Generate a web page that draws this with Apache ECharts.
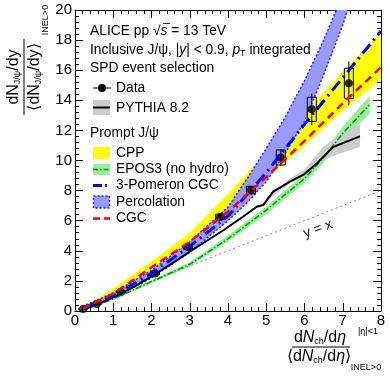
<!DOCTYPE html>
<html>
<head>
<meta charset="utf-8">
<script src="https://cdn.jsdelivr.net/npm/echarts@6/dist/echarts.min.js"></script>
<style>
  html, body { margin: 0; padding: 0; background: #fff; }
  #chart { width: 390px; height: 379px; }
</style>
</head>
<body>
<div id="chart"></div>
<script>
const FONT = 'Liberation Sans, Arial, Helvetica, sans-serif';

// ALICE inclusive J/psi data
const dataX = [0.21, 0.57, 1.2, 2.09, 2.95, 3.79, 4.6, 5.38, 6.19, 7.16];
const dataY = [0.13, 0.46, 1.26, 2.5, 4.25, 6.25, 8.04, 10.2, 13.4, 15.13];
const dataStat = [0.02, 0.04, 0.08, 0.12, 0.18, 0.22, 0.3, 0.55, 1.05, 1.45];
const dataSyst = [0.02, 0.03, 0.06, 0.1, 0.14, 0.18, 0.25, 0.5, 0.8, 1.0];

// PYTHIA 8.2
const pyX = [0.2, 0.5, 1, 1.5, 2, 2.5, 3, 3.5, 3.9, 4.3, 4.75, 4.92, 5.18, 5.62, 6.0, 6.32, 6.75, 7.1, 7.45];
const pyY = [0.1, 0.35, 0.9, 1.55, 2.3, 3.1, 3.94, 4.75, 5.4, 6.1, 6.93, 7.04, 7.93, 8.6, 9.1, 9.8, 10.9, 11.25, 11.6];
const pyBandX = [5.0, 5.6, 6.0, 6.49, 6.84, 7.45];
const pyBandLow = [7.3, 8.45, 8.9, 10.0, 10.4, 10.9];
const pyBandHigh = [7.5, 8.75, 9.4, 10.9, 11.6, 12.4];

// CPP
const cppX = [0.2, 1, 2, 3, 4, 5, 6, 7, 8];
const cppLow = [0.15, 1.05, 2.55, 4.3, 6.6, 8.8, 11.0, 13.3, 15.4];
const cppHigh = [0.25, 1.5, 3.3, 5.2, 7.8, 10.5, 13.2, 15.9, 18.5];

// EPOS3 (no hydro)
const eposX = [0.2, 1, 2, 3, 4, 5, 6, 6.5, 7, 7.7];
const eposY = [0.05, 0.8, 1.95, 3.1, 4.8, 6.7, 8.8, 10.2, 11.8, 13.7];
const eposLow = [0.03, 0.75, 1.85, 2.95, 4.6, 6.45, 8.5, 9.85, 11.35, 13.1];
const eposHigh = [0.07, 0.85, 2.05, 3.25, 5.0, 6.95, 9.1, 10.55, 12.25, 14.3];

// 3-Pomeron CGC
const pomX = [0.2, 1, 2, 3, 4, 5, 6, 7, 8];
const pomY = [0.2, 1.0, 2.5, 4.3, 6.3, 9.2, 12.4, 15.5, 18.6];

// Percolation
const percX = [0.2, 1, 2, 3, 4, 4.5, 5, 5.5, 6, 6.5, 7, 7.5];
const percLow = [0.1, 0.85, 2.2, 3.9, 6.0, 7.2, 8.6, 10.5, 12.6, 15.7, 19.0, 23.0];
const percHigh = [0.3, 1.2, 2.7, 4.6, 6.9, 8.8, 10.8, 12.9, 15.3, 18.0, 21.0, 24.5];

// CGC
const cgcX = [0.2, 1, 2, 3, 4, 5, 6, 7, 8];
const cgcY = [0.15, 1.15, 2.9, 4.6, 6.6, 8.9, 11.3, 13.8, 16.2];

// y = x reference
const diagX = [0, 8];
const diagY = [0, 8];

function pairs(xs, ys) {
  return xs.map(function (x, i) { return [x, ys[i]]; });
}

function band(name, xs, lo, hi, fill, stroke, dash) {
  return {
    type: 'custom',
    name: name,
    silent: true,
    clip: true,
    data: [[xs[0], lo[0]]],
    renderItem: function (params, api) {
      const pts = [];
      for (let i = 0; i < xs.length; i++) pts.push(api.coord([xs[i], hi[i]]));
      for (let i = xs.length - 1; i >= 0; i--) pts.push(api.coord([xs[i], lo[i]]));
      const cs = params.coordSys;
      return {
        type: 'polygon',
        shape: { points: pts },
        clipPath: { type: 'rect', shape: { x: cs.x, y: cs.y, width: cs.width, height: cs.height } },
        style: { fill: fill, stroke: stroke || 'transparent', lineWidth: 1.5, lineDash: dash || null }
      };
    }
  };
}

function curve(name, xs, ys, color, width, dash) {
  return {
    type: 'line',
    name: name,
    data: pairs(xs, ys),
    showSymbol: false,
    symbol: 'none',
    silent: true,
    clip: true,
    lineStyle: { color: color, width: width, type: dash || 'solid' }
  };
}

const sub = function (size) {
  return { fontSize: size, fontFamily: FONT, fill: '#000', padding: [size - 1, 0, 0, 0] };
};
const ital = function (size) {
  return { fontSize: size, fontFamily: FONT, fontStyle: 'italic', fill: '#000' };
};

function label(x, y, text, size, extra) {
  const st = {
    text: text, fontSize: size, fontFamily: FONT, fill: '#000',
    align: 'left', verticalAlign: 'middle',
    rich: { i: ital(size), s: sub(9) }
  };
  Object.assign(st, extra || {});
  return { type: 'text', x: x, y: y, style: st, z: 100 };
}

const chart = echarts.init(document.getElementById('chart'), null, { renderer: 'canvas' });

const axisCommon = {
  type: 'value',
  axisLine: { show: true, onZero: false, lineStyle: { color: '#000', width: 1 } },
  axisTick: { show: true, inside: true, length: 8, lineStyle: { color: '#000' } },
  minorTick: { show: true, splitNumber: 5, length: 4, lineStyle: { color: '#000' } },
  splitLine: { show: false },
  minorSplitLine: { show: false }
};

const LEG = 13.8;

const option = {
  animation: false,
  backgroundColor: '#fff',
  grid: { left: 75, right: 9, top: 10, bottom: 68 },
  xAxis: [
    Object.assign({}, axisCommon, {
      min: 0, max: 8, interval: 1, position: 'bottom',
      axisLabel: { color: '#000', fontSize: 15, fontFamily: FONT, margin: 2 }
    }),
    Object.assign({}, axisCommon, {
      min: 0, max: 8, interval: 1, position: 'top',
      axisLabel: { show: false }
    })
  ],
  yAxis: [
    Object.assign({}, axisCommon, {
      min: 0, max: 20, interval: 2, position: 'left',
      axisLabel: { color: '#000', fontSize: 15, fontFamily: FONT, margin: 3 }
    }),
    Object.assign({}, axisCommon, {
      min: 0, max: 20, interval: 2, position: 'right',
      axisLabel: { show: false }
    })
  ],
  series: [
    band('CPP', cppX, cppLow, cppHigh, '#ffff00'),
    band('Percolation', percX, percLow, percHigh, '#9999ff', '#2222ff', [2, 2]),
    band('EPOS3 band', eposX, eposLow, eposHigh, '#99ee99'),
    band('PYTHIA band', pyBandX, pyBandLow, pyBandHigh, '#cccccc'),
    curve('y = x', diagX, diagY, '#888888', 1, [2, 3]),
    curve('EPOS3 (no hydro)', eposX, eposY, '#00a000', 1.5, [6, 2, 1.5, 2]),
    curve('PYTHIA 8.2', pyX, pyY, '#000000', 2),
    curve('3-Pomeron CGC', pomX, pomY, '#0000ff', 3, [12, 5, 2, 5]),
    curve('CGC', cgcX, cgcY, '#ff0000', 2.5, [8, 5]),
    {
      type: 'custom',
      name: 'Data errors',
      silent: true,
      data: dataX.map(function (x, i) { return [x, dataY[i], dataStat[i], dataSyst[i]]; }),
      renderItem: function (params, api) {
        const x = api.value(0), y = api.value(1), st = api.value(2), sy = api.value(3);
        const sTop = api.coord([x, y + st]);
        const sBot = api.coord([x, y - st]);
        const bTop = api.coord([x, y + sy]);
        const bBot = api.coord([x, y - sy]);
        return {
          type: 'group',
          children: [
            { type: 'line', shape: { x1: sTop[0], y1: sTop[1], x2: sBot[0], y2: sBot[1] },
              style: { stroke: '#000', lineWidth: 1 } },
            { type: 'rect', shape: { x: bTop[0] - 4.5, y: bTop[1], width: 9, height: bBot[1] - bTop[1] },
              style: { fill: 'transparent', stroke: '#000', lineWidth: 1 } }
          ]
        };
      }
    },
    {
      type: 'scatter',
      name: 'Data',
      data: pairs(dataX, dataY),
      symbol: 'circle',
      symbolSize: 8,
      itemStyle: { color: '#000' },
      silent: true
    }
  ],
  graphic: [
    // header text
    label(90, 31, 'ALICE pp √{i|s} = 13 TeV', LEG),
    { type: 'line', shape: { x1: 163, y1: 23.5, x2: 170, y2: 23.5 }, style: { stroke: '#000', lineWidth: 0.8 }, z: 100 },
    label(90, 50, 'Inclusive J/ψ, |{i|y}| < 0.9, {i|p}{s|T} integrated', LEG),
    label(90, 68, 'SPD event selection', LEG),
    // Data
    { type: 'line', shape: { x1: 93, y1: 88, x2: 111, y2: 88 }, style: { stroke: '#000', lineWidth: 1 }, z: 100 },
    { type: 'circle', shape: { cx: 102, cy: 88, r: 4 }, style: { fill: '#000' }, z: 100 },
    label(116, 88, 'Data', LEG),
    // PYTHIA
    { type: 'rect', shape: { x: 93, y: 100, width: 17, height: 15 }, style: { fill: '#cccccc' }, z: 100 },
    { type: 'line', shape: { x1: 93, y1: 107.5, x2: 110, y2: 107.5 }, style: { stroke: '#000', lineWidth: 2 }, z: 100 },
    label(116, 108, 'PYTHIA 8.2', LEG),
    label(90, 133, 'Prompt J/ψ', LEG),
    // CPP
    { type: 'rect', shape: { x: 93, y: 147, width: 17, height: 12 }, style: { fill: '#ffff00' }, z: 100 },
    label(116, 153, 'CPP', LEG),
    // EPOS3
    { type: 'rect', shape: { x: 93, y: 164, width: 17, height: 11 }, style: { fill: '#99ee99' }, z: 100 },
    { type: 'line', shape: { x1: 93, y1: 169.5, x2: 110, y2: 169.5 }, style: { stroke: '#00a000', lineWidth: 1.5, lineDash: [5, 2, 1.5, 2] }, z: 100 },
    label(116, 169, 'EPOS3 (no hydro)', LEG),
    // 3-Pomeron
    { type: 'line', shape: { x1: 93, y1: 185.5, x2: 108, y2: 185.5 }, style: { stroke: '#0000ff', lineWidth: 3, lineDash: [9, 3, 2, 3] }, z: 100 },
    label(116, 185, '3-Pomeron CGC', LEG),
    // Percolation
    { type: 'rect', shape: { x: 93.5, y: 196, width: 16, height: 12 }, style: { fill: '#9999ff', stroke: '#2222ff', lineWidth: 1.5, lineDash: [2, 2] }, z: 100 },
    label(116, 202, 'Percolation', LEG),
    // CGC
    { type: 'line', shape: { x1: 93, y1: 218.5, x2: 110, y2: 218.5 }, style: { stroke: '#ff0000', lineWidth: 2.5, lineDash: [7, 4] }, z: 100 },
    label(116, 218, 'CGC', LEG),
    // y = x tag
    { type: 'text', x: 318, y: 229, rotation: 20 * Math.PI / 180,
      style: { text: 'y = x', fontSize: 14, fontFamily: FONT, fill: '#222', align: 'center', verticalAlign: 'middle' }, z: 100 },
    // y-axis title
    {
      type: 'group', x: 24, y: 77, rotation: Math.PI / 2, z: 100,
      children: [
        { type: 'line', shape: { x1: -38, y1: 0, x2: 38, y2: 0 }, style: { stroke: '#000', lineWidth: 1 } },
        { type: 'text', x: 0, y: -10,
          style: { text: 'dN{s|J/ψ}/dy', fontSize: 16, fontFamily: FONT, fill: '#000', align: 'center', verticalAlign: 'middle',
                   rich: { s: sub(9) } } },
        { type: 'text', x: 0, y: 11,
          style: { text: '⟨dN{s|J/ψ}/dy⟩', fontSize: 16, fontFamily: FONT, fill: '#000', align: 'center', verticalAlign: 'middle',
                   rich: { s: sub(9) } } },
        { type: 'text', x: 57, y: 22,
          style: { text: 'INEL>0', fontSize: 9, fontFamily: FONT, fill: '#000', align: 'center', verticalAlign: 'middle' } }
      ]
    },
    // x-axis title
    { type: 'line', shape: { x1: 292, y1: 347, x2: 350, y2: 347 }, style: { stroke: '#000', lineWidth: 1 }, z: 100 },
    label(320, 338, 'd{i|N}{s|ch}/d{i|η}', 16, { align: 'center' }),
    label(319, 357, '⟨d{i|N}{s|ch}/d{i|η}⟩', 16, { align: 'center' }),
    { type: 'text', x: 368, y: 332,
      style: { text: '|η|<1', fontSize: 9, fontFamily: FONT, fill: '#000', align: 'center', verticalAlign: 'middle' }, z: 100 },
    { type: 'text', x: 366, y: 368,
      style: { text: 'INEL>0', fontSize: 9, fontFamily: FONT, fill: '#000', align: 'center', verticalAlign: 'middle' }, z: 100 }
  ]
};

chart.setOption(option);
</script>
</body>
</html>
